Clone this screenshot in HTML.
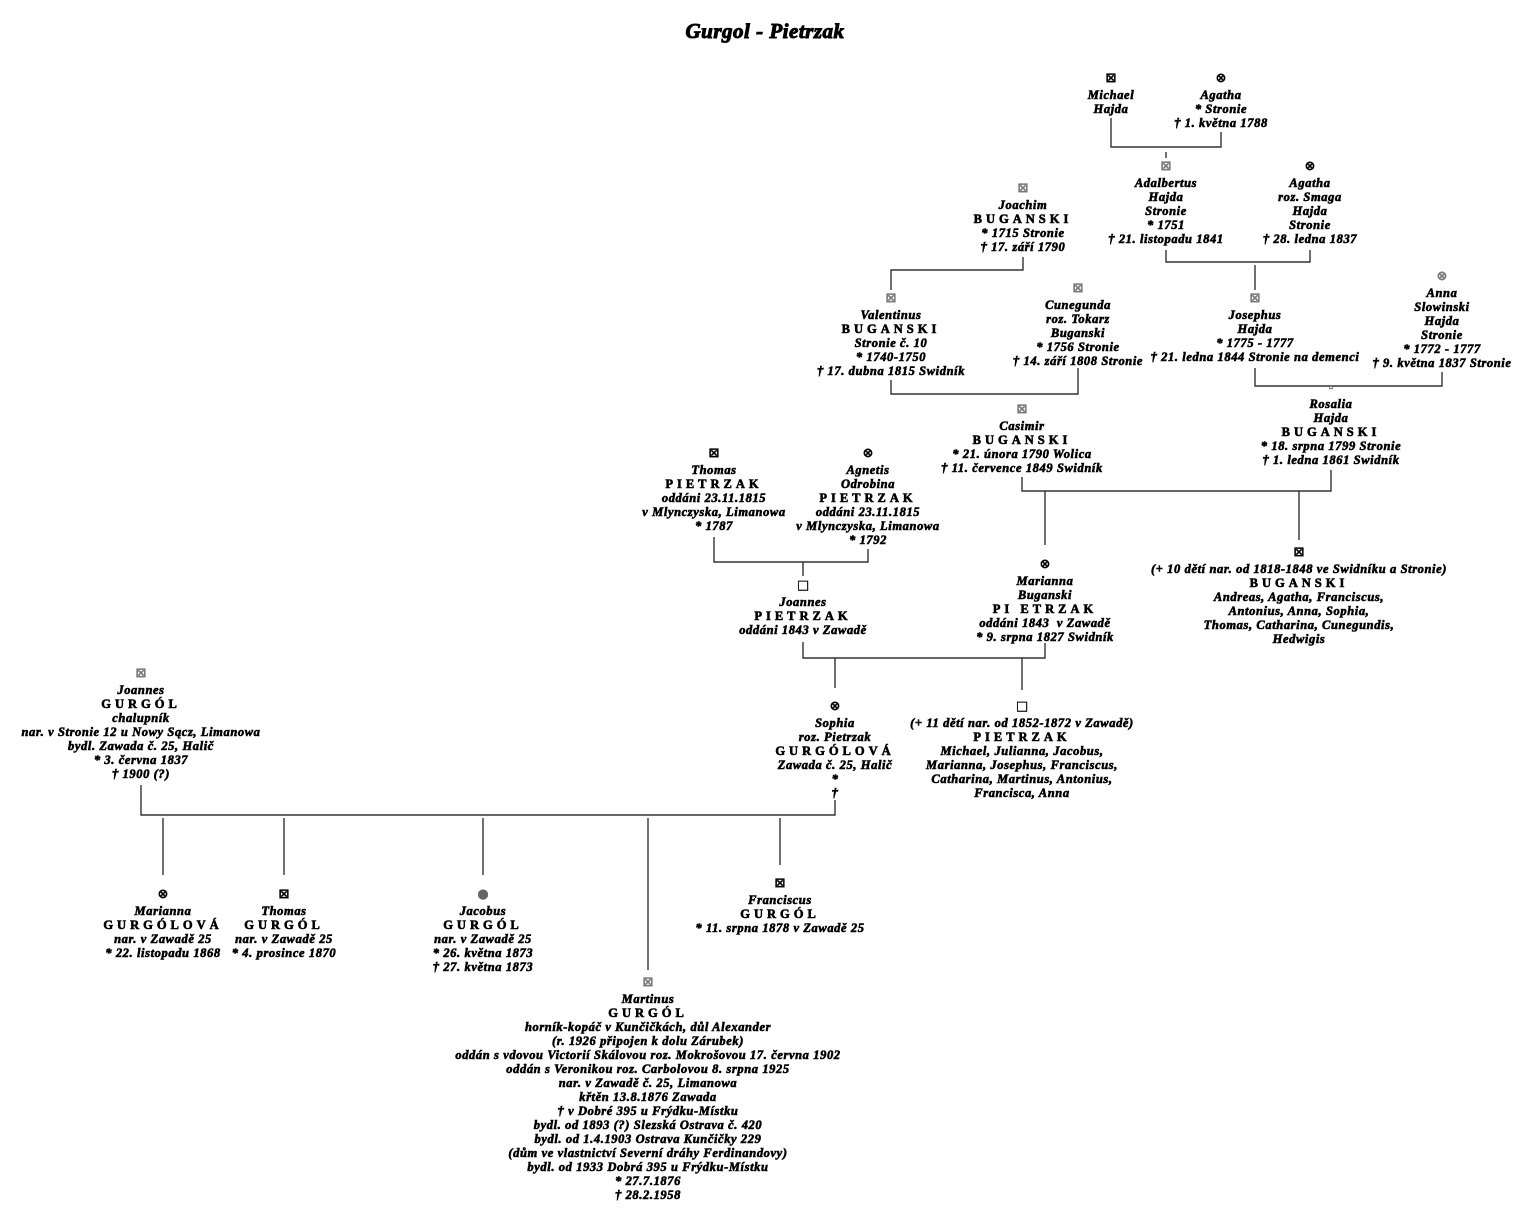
<!DOCTYPE html>
<html><head><meta charset="utf-8"><style>
html,body{margin:0;padding:0;background:#fff;}
body{width:1530px;height:1221px;position:relative;overflow:hidden;}
.n{position:absolute;transform:translateX(-50%);text-align:center;white-space:nowrap;font-family:"Liberation Serif",serif;font-weight:bold;font-style:italic;font-size:12.5px;letter-spacing:0.6px;line-height:14px;color:#000;-webkit-text-stroke:0.6px #000;}
.i{display:block;font-style:normal;font-weight:bold;font-family:"DejaVu Sans",sans-serif;font-size:13px;line-height:12px;height:15px;letter-spacing:0;-webkit-text-stroke:0.3px currentColor;}
.g{color:#777;}
.u{letter-spacing:4px;font-style:normal;}
.t{position:absolute;left:765px;top:19px;transform:translateX(-50%);font-family:"Liberation Serif",serif;font-weight:bold;font-style:italic;font-size:21px;letter-spacing:0.5px;-webkit-text-stroke:1px #000;}
svg{position:absolute;left:0;top:0;}
</style></head><body>
<div class="t">Gurgol - Pietrzak</div>
<svg width="1530" height="1221" stroke="#333" stroke-width="1.4" fill="none">
<path d="M1111 118V147H1221V132M1166 152V158"/>
<path d="M1166 250V262H1310V250M1255 265V290"/>
<path d="M1023 257V270H891V290"/>
<path d="M891 380V394H1078V368M1255 368V386H1442V372"/>
<path d="M1022 477V491H1331V470M1045 491V545M1299 491V540"/>
<path d="M714 537V562H868V549M803 562V576"/>
<path d="M803 642V658H1045V643M835 658V688M1022 658V690"/>
<path d="M141 785V815H835V800M163 818V875M284 818V875M483 818V875M648 818V970M780 818V865"/>
</svg>

<div class="n" style="left:1111px;top:73px"><span class="i">⊠</span>Michael<br>Hajda</div>
<div class="n" style="left:1221px;top:73px"><span class="i">⊗</span>Agatha<br>* Stronie<br>† 1. května 1788</div>
<div class="n" style="left:1166px;top:161px"><span class="i g">⊠</span>Adalbertus<br>Hajda<br>Stronie<br>* 1751<br>† 21. listopadu 1841</div>
<div class="n" style="left:1310px;top:161px"><span class="i">⊗</span>Agatha<br>roz. Smaga<br>Hajda<br>Stronie<br>† 28. ledna 1837</div>
<div class="n" style="left:1023px;top:183px"><span class="i g">⊠</span>Joachim<br><span class="u">BUGANSKI</span><br>* 1715 Stronie<br>† 17. září 1790</div>
<div class="n" style="left:891px;top:293px"><span class="i g">⊠</span>Valentinus<br><span class="u">BUGANSKI</span><br>Stronie č. 10<br>* 1740-1750<br>† 17. dubna 1815 Swidník</div>
<div class="n" style="left:1078px;top:283px"><span class="i g">⊠</span>Cunegunda<br>roz. Tokarz<br>Buganski<br>* 1756 Stronie<br>† 14. září 1808 Stronie</div>
<div class="n" style="left:1255px;top:293px"><span class="i g">⊠</span>Josephus<br>Hajda<br>* 1775 - 1777<br>† 21. ledna 1844 Stronie na demenci</div>
<div class="n" style="left:1442px;top:271px"><span class="i g">⊗</span>Anna<br>Slowinski<br>Hajda<br>Stronie<br>* 1772 - 1777<br>† 9. května 1837 Stronie</div>
<div class="n" style="left:1022px;top:404px"><span class="i g">⊠</span>Casimir<br><span class="u">BUGANSKI</span><br>* 21. února 1790 Wolica<br>† 11. července 1849 Swidník</div>
<div class="n" style="left:1331px;top:382px"><span class="i g" style="font-size:6px">⌂</span>Rosalia<br>Hajda<br><span class="u">BUGANSKI</span><br>* 18. srpna 1799 Stronie<br>† 1. ledna 1861 Swidník</div>
<div class="n" style="left:714px;top:448px"><span class="i">⊠</span>Thomas<br><span class="u">PIETRZAK</span><br>oddáni 23.11.1815<br>v Mlynczyska, Limanowa<br>* 1787</div>
<div class="n" style="left:868px;top:448px"><span class="i">⊗</span>Agnetis<br>Odrobina<br><span class="u">PIETRZAK</span><br>oddáni 23.11.1815<br>v Mlynczyska, Limanowa<br>* 1792</div>
<div class="n" style="left:1045px;top:559px"><span class="i">⊗</span>Marianna<br>Buganski<br><span class="u">PI ETRZAK</span><br>oddáni 1843 &nbsp;v Zawadě<br>* 9. srpna 1827 Swidník</div>
<div class="n" style="left:1299px;top:547px"><span class="i">⊠</span>(+ 10 dětí nar. od 1818-1848 ve Swidníku a Stronie)<br><span class="u">BUGANSKI</span><br>Andreas, Agatha, Franciscus,<br>Antonius, Anna, Sophia,<br>Thomas, Catharina, Cunegundis,<br>Hedwigis</div>
<div class="n" style="left:803px;top:580px"><span class="i">□</span>Joannes<br><span class="u">PIETRZAK</span><br>oddáni 1843 v Zawadě</div>
<div class="n" style="left:835px;top:701px"><span class="i">⊗</span>Sophia<br>roz. Pietrzak<br><span class="u">GURGÓLOVÁ</span><br>Zawada č. 25, Halič<br>*<br>†</div>
<div class="n" style="left:1022px;top:701px"><span class="i">□</span>(+ 11 dětí nar. od 1852-1872 v Zawadě)<br><span class="u">PIETRZAK</span><br>Michael, Julianna, Jacobus,<br>Marianna, Josephus, Franciscus,<br>Catharina, Martinus, Antonius,<br>Francisca, Anna</div>
<div class="n" style="left:141px;top:668px"><span class="i g">⊠</span>Joannes<br><span class="u">GURGÓL</span><br>chalupník<br>nar. v Stronie 12 u Nowy Sącz, Limanowa<br>bydl. Zawada č. 25, Halič<br>* 3. června 1837<br>† 1900 (?)</div>
<div class="n" style="left:163px;top:889px"><span class="i">⊗</span>Marianna<br><span class="u">GURGÓLOVÁ</span><br>nar. v Zawadě 25<br>* 22. listopadu 1868</div>
<div class="n" style="left:284px;top:889px"><span class="i">⊠</span>Thomas<br><span class="u">GURGÓL</span><br>nar. v Zawadě 25<br>* 4. prosince 1870</div>
<div class="n" style="left:483px;top:889px"><span class="i" style="color:#666">●</span>Jacobus<br><span class="u">GURGÓL</span><br>nar. v Zawadě 25<br>* 26. května 1873<br>† 27. května 1873</div>
<div class="n" style="left:780px;top:878px"><span class="i">⊠</span>Franciscus<br><span class="u">GURGÓL</span><br>* 11. srpna 1878 v Zawadě 25</div>
<div class="n" style="left:648px;top:977px"><span class="i g">⊠</span>Martinus<br><span class="u">GURGÓL</span><br>horník-kopáč v Kunčičkách, důl Alexander<br>(r. 1926 připojen k dolu Zárubek)<br>oddán s vdovou Victorií Skálovou roz. Mokrošovou 17. června 1902<br>oddán s Veronikou roz. Carbolovou 8. srpna 1925<br>nar. v Zawadě č. 25, Limanowa<br>křtěn 13.8.1876 Zawada<br>† v Dobré 395 u Frýdku-Místku<br>bydl. od 1893 (?) Slezská Ostrava č. 420<br>bydl. od 1.4.1903 Ostrava Kunčičky 229<br>(dům ve vlastnictví Severní dráhy Ferdinandovy)<br>bydl. od 1933 Dobrá 395 u Frýdku-Místku<br>* 27.7.1876<br>† 28.2.1958</div>
</body></html>
